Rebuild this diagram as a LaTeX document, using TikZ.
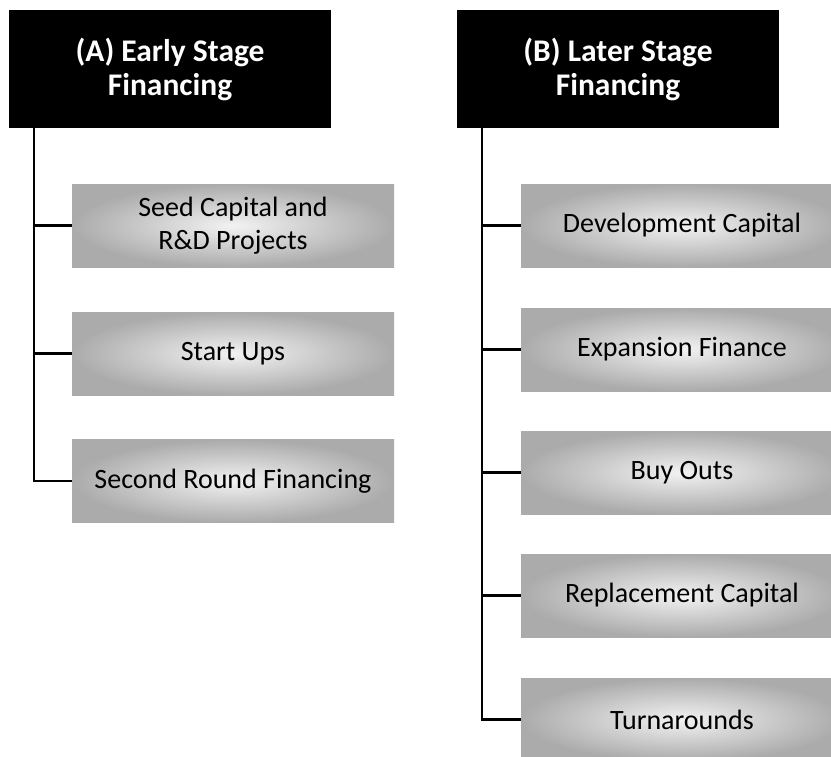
\documentclass[tikz,border=0pt]{standalone}
\usepackage{fontspec}
\setmainfont{Carlito}
\begin{document}
\begin{tikzpicture}[x=1pt,y=-1pt,
  header/.style={fill=black,text=white,minimum width=322pt,minimum height=118pt,inner sep=0pt,align=center,font=\fontsize{31.5}{34}\selectfont\bfseries},
  item/.style={inner color=black!5,outer color=black!33,minimum width=322pt,minimum height=83pt,inner sep=0pt,align=center,font=\fontsize{28}{33}\selectfont},
  conn/.style={line width=2.5pt}]
\useasboundingbox (0,0) rectangle (831,756);
\begin{scope}
\clip (0,0) rectangle (831,756);
\node[header] (ha) at (170,69) {(A) Early Stage\\Financing};
\node[header] (hb) at (618,69) {(B) Later Stage\\Financing};
\node[item] (a1) at (233,225.5) {Seed Capital and\\R\&D Projects};
\node[item] (a2) at (233,353.5) {Start Ups};
\node[item] (a3) at (233,481) {Second Round Financing};
\node[item] (b1) at (682,225.5) {Development Capital};
\node[item] (b2) at (682,349.5) {Expansion Finance};
\node[item] (b3) at (682,472.5) {Buy Outs};
\node[item] (b4) at (682,595.5) {Replacement Capital};
\node[item] (b5) at (682,719.5) {Turnarounds};
\coordinate (ta) at (34,128);
\coordinate (tb) at (482,128);
\draw[conn] (ta) |- (a3.west);
\draw[conn] (ta |- a1.west) -- (a1.west);
\draw[conn] (ta |- a2.west) -- (a2.west);
\draw[conn] (tb) |- (b5.west);
\draw[conn] (tb |- b1.west) -- (b1.west);
\draw[conn] (tb |- b2.west) -- (b2.west);
\draw[conn] (tb |- b3.west) -- (b3.west);
\draw[conn] (tb |- b4.west) -- (b4.west);
\end{scope}
\end{tikzpicture}
\end{document}
